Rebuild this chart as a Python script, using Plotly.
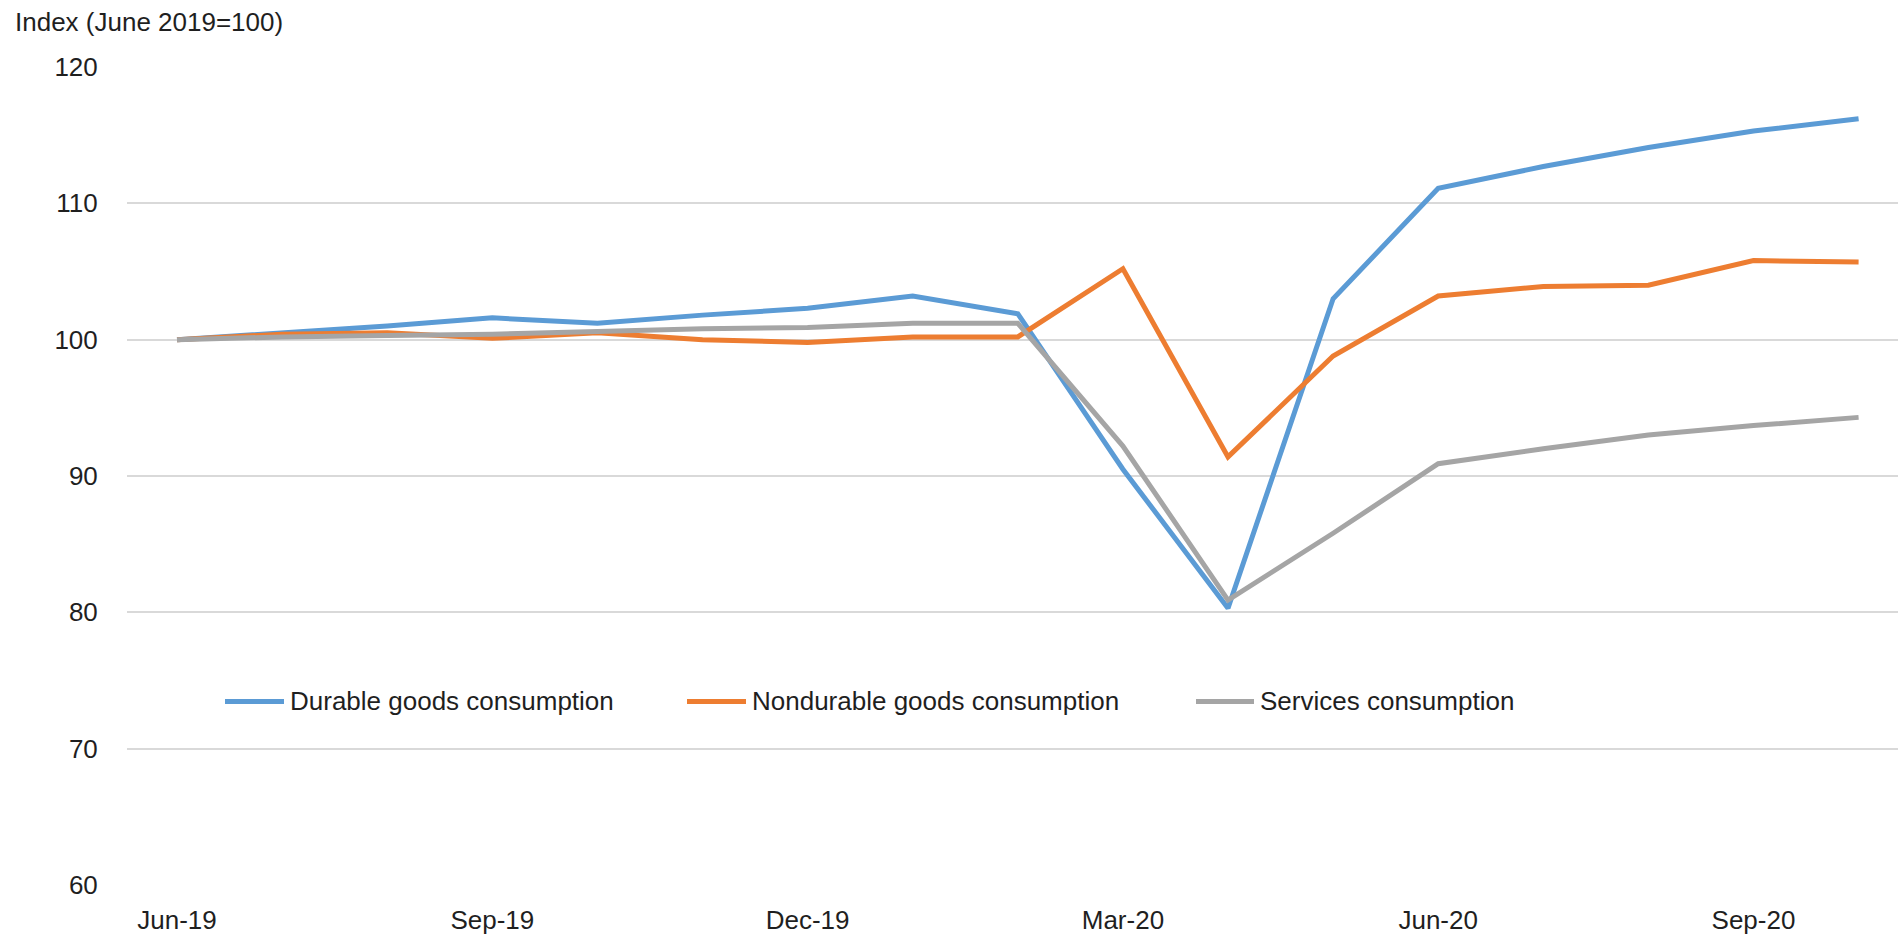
import plotly.graph_objects as go

# Monthly index values, June 2019 = 100
months = ["Jun-19", "Jul-19", "Aug-19", "Sep-19", "Oct-19", "Nov-19", "Dec-19",
          "Jan-20", "Feb-20", "Mar-20", "Apr-20", "May-20", "Jun-20", "Jul-20",
          "Aug-20", "Sep-20", "Oct-20"]

durable = [100.0, 100.5, 101.0, 101.6, 101.2, 101.8, 102.3, 103.2, 101.9,
           90.5, 80.3, 103.0, 111.1, 112.7, 114.1, 115.3, 116.2]
nondurable = [100.0, 100.4, 100.5, 100.1, 100.5, 100.0, 99.8, 100.2, 100.2,
              105.2, 91.4, 98.8, 103.2, 103.9, 104.0, 105.8, 105.7]
services = [100.0, 100.2, 100.3, 100.4, 100.6, 100.8, 100.9, 101.2, 101.2,
            92.2, 80.9, 85.8, 90.9, 92.0, 93.0, 93.7, 94.3]

series_names = ["Durable goods consumption", "Nondurable goods consumption",
                "Services consumption"]
series_values = [durable, nondurable, services]
series_colors = ["#5B9BD5", "#ED7D31", "#A5A5A5"]

x_tick_labels = ["Jun-19", "Sep-19", "Dec-19", "Mar-20", "Jun-20", "Sep-20"]
y_tick_values = [60, 70, 80, 90, 100, 110, 120]

FONT = "Liberation Sans, Arial, sans-serif"
TEXT_COLOR = "#1f1f1f"

fig = go.Figure()
for name, vals, color in zip(series_names, series_values, series_colors):
    fig.add_trace(go.Scatter(
        x=months, y=vals, name=name, mode="lines",
        line=dict(color=color, width=5),
        showlegend=False,
    ))

# Plot-area geometry (pixels) used to place the in-plot legend
W, H = 1898, 935
ML, MR, MT, MB = 127, 0, 67, 48
pw, ph = W - ML - MR, H - MT - MB


def px_x(p):
    return (p - ML) / pw


def px_y(p):
    return (H - MB - p) / ph


legend_y = px_y(703)
legend_items = [(225, 284, 288), (687, 746, 750), (1196, 1254, 1258)]
for (x0, x1, xt), name, color in zip(legend_items, series_names, series_colors):
    fig.add_shape(type="line", xref="paper", yref="paper",
                  x0=px_x(x0), x1=px_x(x1), y0=legend_y, y1=legend_y,
                  line=dict(color=color, width=5))
    fig.add_annotation(xref="paper", yref="paper", x=px_x(xt), y=legend_y,
                       text=name, showarrow=False, xanchor="left",
                       yanchor="middle",
                       font=dict(family=FONT, size=26, color=TEXT_COLOR))

fig.add_annotation(xref="paper", yref="paper", x=px_x(13), y=px_y(22),
                   text="Index (June 2019=100)", showarrow=False,
                   xanchor="left", yanchor="middle",
                   font=dict(family=FONT, size=26, color=TEXT_COLOR))

fig.update_layout(
    width=W, height=H,
    margin=dict(l=ML, r=MR, t=MT, b=MB),
    paper_bgcolor="white", plot_bgcolor="white",
    font=dict(family=FONT, size=26, color=TEXT_COLOR),
    xaxis=dict(
        type="category",
        categoryorder="array", categoryarray=months,
        range=[-0.476, 16.375],
        tickmode="array", tickvals=x_tick_labels, ticktext=x_tick_labels,
        showgrid=False, showline=False, zeroline=False,
        ticks="outside", ticklen=12, tickcolor="rgba(0,0,0,0)",
        tickfont=dict(family=FONT, size=26, color=TEXT_COLOR),
    ),
    yaxis=dict(
        range=[60, 120],
        tickmode="array", tickvals=y_tick_values,
        showgrid=True, gridcolor="#d9d9d9", gridwidth=1.5,
        showline=False, zeroline=False,
        ticks="outside", ticklen=23, tickcolor="rgba(0,0,0,0)",
        tickfont=dict(family=FONT, size=26, color=TEXT_COLOR),
    ),
)

fig.write_html("out.html")
